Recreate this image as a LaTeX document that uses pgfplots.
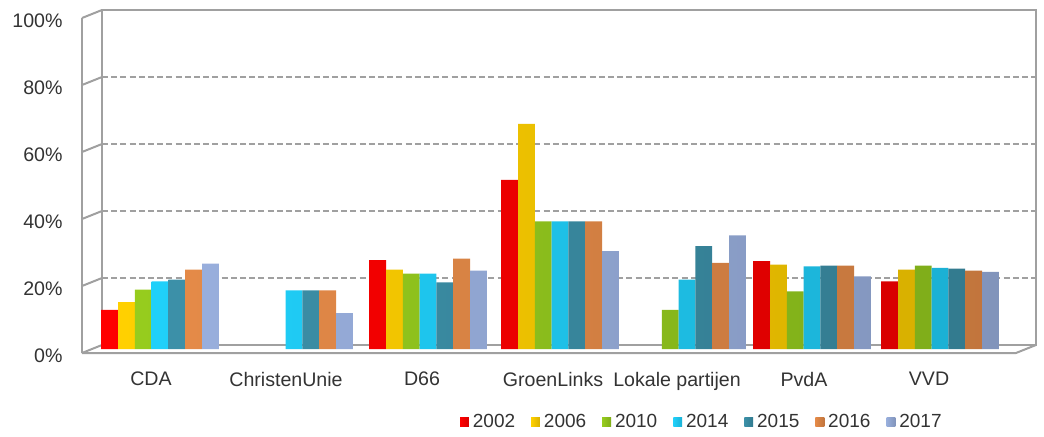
\documentclass[border=0pt]{standalone}
\usepackage{fontspec}
\setmainfont{Liberation Sans}
\usepackage{pgfplots}
\pgfplotsset{compat=1.18}
\usetikzlibrary{calc}
\definecolor{c2002}{HTML}{FF0000}
\definecolor{c2006}{HTML}{FFD000}
\definecolor{c2010}{HTML}{96CC1E}
\definecolor{c2014}{HTML}{20D0FA}
\definecolor{c2015}{HTML}{3C90A8}
\definecolor{c2016}{HTML}{E48A48}
\definecolor{c2017}{HTML}{98AEDC}
\definecolor{fc}{HTML}{A0A0A0}
\definecolor{txt}{HTML}{333333}
\pgfplotsset{
  base/.style={scale only axis, width=467pt, height=167.5pt, at={(46pt,43.5pt)}, anchor=south west,
    xmin=92, xmax=1026, ymin=0, ymax=100, clip=false},
  cyl/.style={draw=none, left color=#1, middle color=#1!88!white, right color=#1!85!black}
}
\begin{document}
\begin{tikzpicture}
\useasboundingbox (0,0) rectangle (522pt,218pt);
\begin{axis}[base, hide axis]
  \pgfplotsinvokeforeach{0,0.2,0.4,0.6,0.8,1}{
    \draw[fc, line width=1pt] ($(rel axis cs:0,#1)+(-5pt,-2pt)$) -- ($(rel axis cs:0,#1)+(5pt,2pt)$);
  }
  \pgfplotsinvokeforeach{0.2,0.4,0.6,0.8}{
    \draw[fc, line width=0.8pt, dash pattern=on 3pt off 1.6pt] ($(rel axis cs:0,#1)+(5pt,2pt)$) -- ($(rel axis cs:1,#1)+(5pt,2pt)$);
  }
  \draw[fc, line width=1pt] ($(rel axis cs:0,0)+(5pt,2pt)$) rectangle ($(rel axis cs:1,1)+(5pt,2pt)$);
  \draw[fc, line width=1pt] ($(rel axis cs:0,0)+(-5pt,-2pt)$) -- ($(rel axis cs:0,1)+(-5pt,-2pt)$);
  \draw[fc, line width=1pt] ($(rel axis cs:0,0)+(-5pt,-2pt)$) -- ($(rel axis cs:1,0)+(-5pt,-2pt)$) -- ($(rel axis cs:1,0)+(5pt,2pt)$);
\end{axis}
\begin{axis}[base,
  ybar=0pt, bar width=8.4pt,
  axis line style={draw=none}, major tick style={draw=none},
  xtick={151,286,422,553,677,804,929},
  xticklabels={CDA,ChristenUnie,D66,GroenLinks,Lokale partijen,PvdA,VVD},
  ytick={0,20,40,60,80,100},
  yticklabels={0\%,20\%,40\%,60\%,80\%,100\%},
  tick label style={font=\fontsize{9.8}{11}\selectfont, text=txt},
  xticklabel style={yshift=-3.8pt},
  yticklabel style={xshift=-11.2pt, yshift=-3.5pt},
  legend columns=7,
  legend style={draw=none, at={(0.654,-0.218)}, anchor=center, font=\fontsize{9.5}{11}\selectfont, text=txt,
    /tikz/every even column/.append style={column sep=6pt}},
  legend image code/.code={\fill[#1] (0pt,-2.2pt) rectangle (4.4pt,2.2pt);},
]
\addplot[cyl=c2002] coordinates {(160,11.7) (428,26.5) (560,50.5) (812,26.2) (940,20.2)};
\addplot[cyl=c2006] coordinates {(160,14.0) (428,23.7) (560,67.2) (812,25.2) (940,23.7)};
\addplot[cyl=c2010] coordinates {(160,17.7) (428,22.5) (560,38.1) (687,11.7) (812,17.2) (940,24.9)};
\addplot[cyl=c2014] coordinates {(160,20.2) (294,17.5) (428,22.5) (560,38.1) (687,20.7) (812,24.7) (940,24.2)};
\addplot[cyl=c2015] coordinates {(160,20.7) (294,17.5) (428,19.9) (560,38.1) (687,30.7) (812,24.9) (940,24.0)};
\addplot[cyl=c2016] coordinates {(160,23.7) (294,17.5) (428,27.0) (560,38.1) (687,25.7) (812,24.9) (940,23.4)};
\addplot[cyl=c2017] coordinates {(160,25.5) (294,10.7) (428,23.4) (560,29.2) (687,33.9) (812,21.7) (940,23.0)};
\legend{2002,2006,2010,2014,2015,2016,2017}
\end{axis}
\end{tikzpicture}
\end{document}
